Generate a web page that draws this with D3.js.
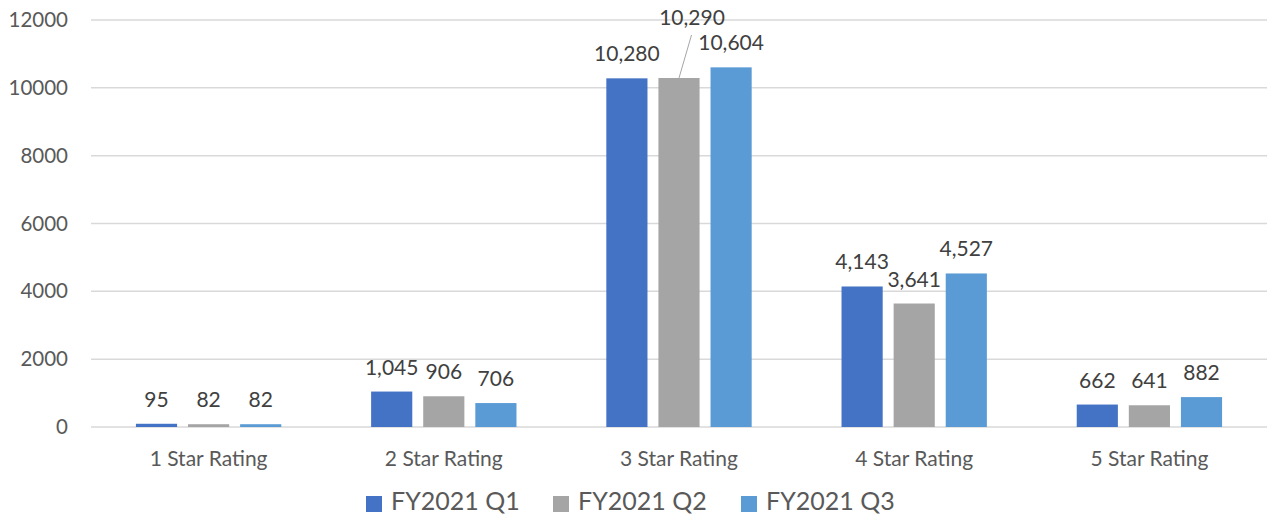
<!DOCTYPE html>
<html>
<head>
<meta charset="utf-8">
<script src="https://cdn.jsdelivr.net/npm/d3@7"></script>
<style>
  body { margin: 0; background: #fff; }
  svg { display: block; font-family: Lato, "Open Sans", sans-serif; }
</style>
</head>
<body>
<svg id="chart" width="1274" height="516"></svg>
<script>
// chart data
var categories = ["1 Star Rating", "2 Star Rating", "3 Star Rating", "4 Star Rating", "5 Star Rating"];
var seriesNames = ["FY2021 Q1", "FY2021 Q2", "FY2021 Q3"];
var q1Values = [95, 1045, 10280, 4143, 662];
var q2Values = [82, 906, 10290, 3641, 641];
var q3Values = [82, 706, 10604, 4527, 882];
var yTicks = [0, 2000, 4000, 6000, 8000, 10000, 12000];

var colors = ["#4472C4", "#A5A5A5", "#5B9BD5"];
var textColor = "#595959";

var svg = d3.select("#chart");

var margin = {left: 91, right: 7, top: 20, bottom: 89};
var width = 1274, height = 516;

var x = d3.scaleBand()
	.domain(categories)
	.range([margin.left, width - margin.right])
	.paddingInner(0.382)
	.paddingOuter(0.191);

var xSub = d3.scaleBand()
	.domain(seriesNames)
	.range([0, x.bandwidth()])
	.paddingInner(0.21);

var y = d3.scaleLinear()
	.domain([0, 12000])
	.range([height - margin.bottom, margin.top]);

// gridlines
svg.append("g")
	.selectAll("line")
	.data(yTicks)
	.enter()
	.append("line")
	.attr("x1", margin.left)
	.attr("x2", width - margin.right)
	.attr("y1", d => y(d))
	.attr("y2", d => y(d))
	.attr("stroke", "#d9d9d9")
	.attr("stroke-width", 1.5);

// y axis labels
var yAxis = d3.axisLeft(y).tickValues(yTicks).tickSize(0).tickPadding(0).tickFormat(d3.format("d"));
svg.append("g")
	.attr("transform", `translate(68,0)`)
	.call(yAxis)
	.call(g => g.select(".domain").remove())
	.selectAll("text")
	.attr("fill", textColor)
	.style("font-size", "20.5px")
	.style("font-family", "Lato, sans-serif");

// bar groups
var series = seriesNames.map((name, i) => ({
	name: name,
	color: colors[i],
	values: [q1Values, q2Values, q3Values][i]
}));

var groups = svg.append("g")
	.selectAll("g")
	.data(series)
	.enter()
	.append("g")
	.attr("fill", d => d.color);

groups.selectAll("rect")
	.data(d => d.values.map((v, j) => ({series: d.name, cat: categories[j], value: v})))
	.enter()
	.append("rect")
	.attr("x", d => x(d.cat) + xSub(d.series))
	.attr("y", d => y(d.value))
	.attr("width", xSub.bandwidth())
	.attr("height", d => y(0) - y(d.value));

// data labels (one label pulled up with a leader line)
var fmt = d3.format(",");
var labelData = [];
series.forEach(s => s.values.forEach((v, j) => labelData.push({series: s.name, cat: categories[j], value: v})));

labelData.forEach(d => {
	var cx = x(d.cat) + xSub(d.series) + xSub.bandwidth() / 2;
	var ty = y(d.value) - 17;
	if (d.series === "FY2021 Q2" && d.cat === "3 Star Rating") {
		svg.append("line")
			.attr("x1", cx + 12.5)
			.attr("y1", 35)
			.attr("x2", cx)
			.attr("y2", y(d.value))
			.attr("stroke", "#a6a6a6")
			.attr("stroke-width", 1);
		cx += 13;
		ty = 25;
	}
	svg.append("text")
		.attr("x", cx)
		.attr("y", ty)
		.attr("text-anchor", "middle")
		.attr("fill", "#404040")
		.style("font-size", "21px")
		.text(fmt(d.value));
});

// category labels
svg.append("g")
	.selectAll("text")
	.data(categories)
	.enter()
	.append("text")
	.attr("x", d => x(d) + x.bandwidth() / 2)
	.attr("y", 466)
	.attr("text-anchor", "middle")
	.attr("fill", textColor)
	.style("font-size", "21px")
	.text(d => d);

// legend
var legendX = [366, 553, 741];
var legend = svg.append("g")
	.selectAll("g")
	.data(series)
	.enter()
	.append("g")
	.attr("transform", (d, i) => `translate(${legendX[i]},496)`);

legend.append("rect")
	.attr("width", 16)
	.attr("height", 16)
	.attr("fill", d => d.color);

legend.append("text")
	.attr("x", 25)
	.attr("y", 14)
	.attr("fill", textColor)
	.style("font-size", "25px")
	.text(d => d.name);
</script>
</body>
</html>
